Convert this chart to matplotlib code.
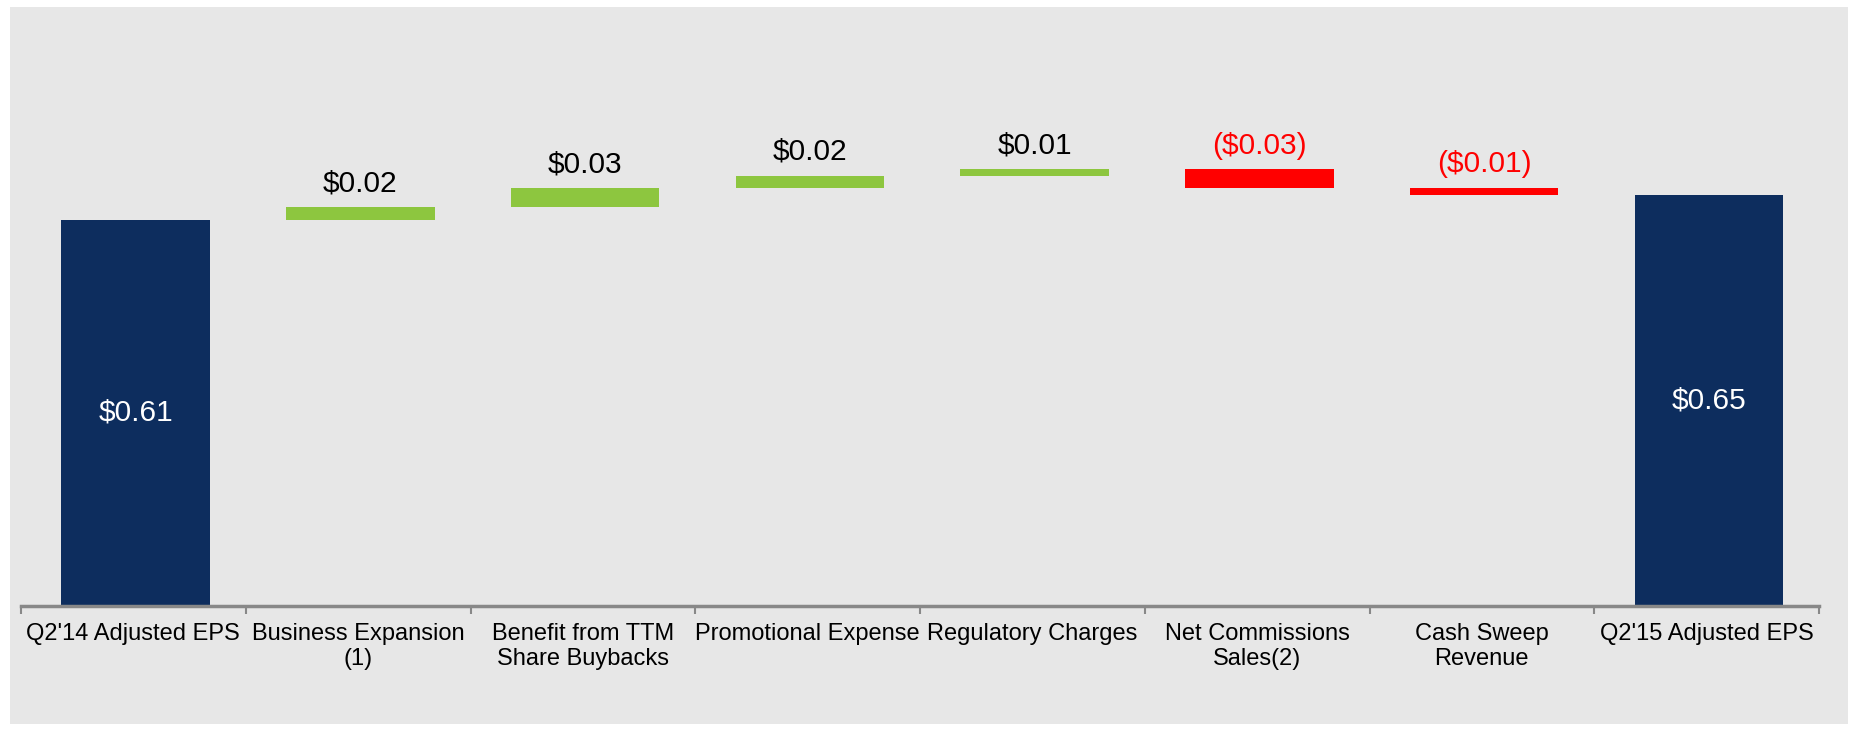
import numpy as np
import matplotlib.pyplot as plt
from matplotlib.patches import Rectangle

plt.rcParams['font.family'] = ['Liberation Sans', 'DejaVu Sans']

categories = ["Q2'14 Adjusted EPS", "Business Expansion\n(1)", "Benefit from TTM\nShare Buybacks",
              "Promotional Expense", "Regulatory Charges", "Net Commissions\nSales(2)",
              "Cash Sweep\nRevenue", "Q2'15 Adjusted EPS"]
start_eps = 0.61
changes = [0.02, 0.03, 0.02, 0.01, -0.03, -0.01]
end_eps = 0.65

navy = "#0D2D5E"
green = "#8DC63F"
red = "#FF0000"

W, H = 1852, 730
fig = plt.figure(figsize=(W / 100, H / 100), dpi=100, facecolor="white")
# gray panel behind the chart
fig.patches.append(Rectangle((10 / W, 1 - 724 / H), (1848 - 10) / W, (724 - 7) / H,
                             transform=fig.transFigure, facecolor="#E7E7E7", edgecolor="none", zorder=-1))

# axes: value 0 at y=606px, 0.9 at 606 - 0.9*633 px
ax_left, ax_right = 21, 1819
y0 = 606
ymax = 0.9
ytop = y0 - ymax * 633
ax = fig.add_axes([ax_left / W, 1 - y0 / H, (ax_right - ax_left) / W, (y0 - ytop) / H])
ax.set_zorder(1)
ax.patch.set_alpha(0)

x = np.arange(len(categories))
bw = 0.66

# totals
ax.bar([0.01, 7.01], [start_eps, end_eps], width=bw, color=navy, zorder=2)
ax.text(0.01, start_eps / 2, f"${start_eps:.2f}", color="white", ha="center", va="center", fontsize=21.5)
ax.text(7.01, end_eps / 2, f"${end_eps:.2f}", color="white", ha="center", va="center", fontsize=21.5)

# steps
level = start_eps
for i, d in enumerate(changes, start=1):
    bottom = level if d > 0 else level + d
    col = green if d > 0 else red
    ax.bar(i + 0.01, abs(d), bottom=bottom, width=bw, color=col, zorder=2)
    top = bottom + abs(d)
    lab = f"${d:.2f}" if d > 0 else f"(${-d:.2f})"
    ax.annotate(lab, (i + 0.01, top), xytext=(0, 7), textcoords="offset points",
                ha="center", va="bottom", fontsize=21.5, color="black" if d > 0 else red)
    level += d

ax.set_xlim(-0.5, len(categories) - 0.5)
ax.set_ylim(0, ymax)
ax.set_yticks([])
for s in ["top", "right", "left"]:
    ax.spines[s].set_visible(False)
ax.spines["bottom"].set_color("#888888")
ax.spines["bottom"].set_linewidth(2.5)

ax.set_xticks(x)
ax.set_xticklabels(categories, fontsize=17, linespacing=1.2)
ax.tick_params(axis="x", which="major", length=0, pad=12)
ax.set_xticks(np.arange(-0.5, len(categories)), minor=True)
ax.tick_params(axis="x", which="minor", length=6, width=1.5, color="#888888", direction="out")

fig.savefig("out.png", dpi=100, facecolor="white")
